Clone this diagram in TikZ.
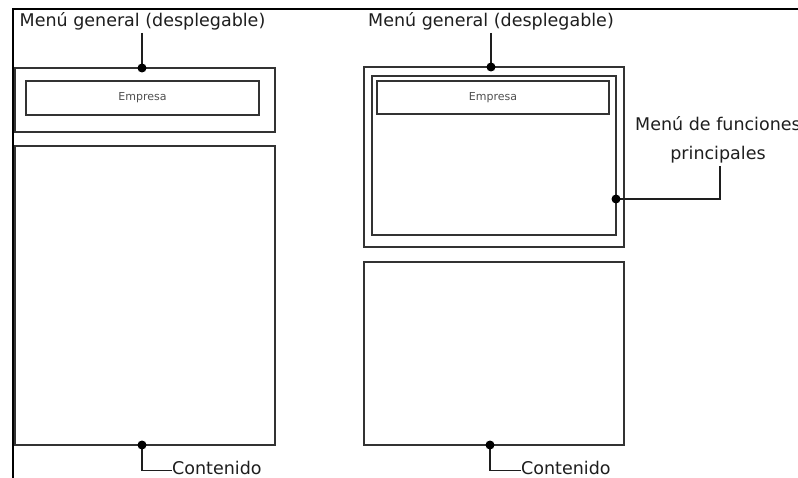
\documentclass[tikz,border=0pt]{standalone}
\usepackage{fontspec}
\setmainfont{DejaVu Sans}
\definecolor{ink}{HTML}{1E1E1E}
\definecolor{boxline}{HTML}{333333}
\definecolor{smalltext}{HTML}{505050}
\tikzset{
  panel/.style={draw=boxline, line width=2.3pt, inner sep=0pt, fill=none},
  callout/.style={font=\fontsize{17.5}{21}\selectfont, text=ink, inner sep=0pt},
  itemtext/.style={font=\fontsize{11}{13}\selectfont, text=smalltext},
  leader/.style={draw=ink, line width=1.9pt},
  pin/.style={fill=black},
  frameline/.style={draw=black, line width=1.5pt}
}
\begin{document}
\begin{tikzpicture}[x=1pt,y=-1pt]
  \useasboundingbox (0,0) rectangle (798,478);
  \fill[white] (0,0) rectangle (798,478);

  % page frame (top and left rules)
  \draw[frameline] (13,478) -- (13,9) -- (798,9);

  % ---- left layout ----
  \node[panel, minimum width=260pt, minimum height=64pt] (lmenu) at (145,100) {};
  \node[panel, line width=2pt, minimum width=233pt, minimum height=34pt, itemtext] (lemp) at (142.5,98) {Empresa};
  \node[panel, minimum width=260pt, minimum height=299pt] (lcont) at (145,295.5) {};

  \node[callout, anchor=base] (lmenulbl) at (142.5,27) {Menú general (desplegable)};
  \coordinate (ldot1) at (142,68);
  \draw[leader] ([yshift=-2pt]lmenulbl.south -| ldot1) -- (ldot1);
  \fill[pin] (ldot1) circle (4.5pt);

  \node[callout, anchor=base west] (lcontlbl) at (172,474) {Contenido};
  \coordinate (ldot2) at (142,445);
  \draw[leader] (ldot2) |- ([yshift=-3pt]lcontlbl.west);
  \fill[pin] (ldot2) circle (4.5pt);

  % ---- right layout ----
  \node[panel, minimum width=260pt, minimum height=180pt] (rmenu) at (494,157) {};
  \node[panel, minimum width=244pt, minimum height=159pt] (rfunc) at (494,155.5) {};
  \node[panel, line width=2pt, minimum width=232pt, minimum height=33pt, itemtext] (remp) at (493,97.5) {Empresa};
  \node[panel, minimum width=260pt, minimum height=183pt] (rcont) at (494,353.5) {};

  \node[callout, anchor=base] (rmenulbl) at (491,27) {Menú general (desplegable)};
  \coordinate (rdot1) at (491,67);
  \draw[leader] ([yshift=-2pt]rmenulbl.south -| rdot1) -- (rdot1);
  \fill[pin] (rdot1) circle (4.5pt);

  \node[callout, anchor=base] (rfunclbl) at (718,131) {Menú de funciones};
  \node[callout, anchor=base] (rfunclbl2) at (718,160) {principales};
  \coordinate (rdot2) at (616,199);
  \draw[leader] (rdot2) -| ([yshift=-2pt]rfunclbl2.south -| 720,0);
  \fill[pin] (rdot2) circle (4.5pt);

  \node[callout, anchor=base west] (rcontlbl) at (521,474) {Contenido};
  \coordinate (rdot3) at (490,445);
  \draw[leader] (rdot3) |- ([yshift=-3pt]rcontlbl.west);
  \fill[pin] (rdot3) circle (4.5pt);
\end{tikzpicture}
\end{document}
